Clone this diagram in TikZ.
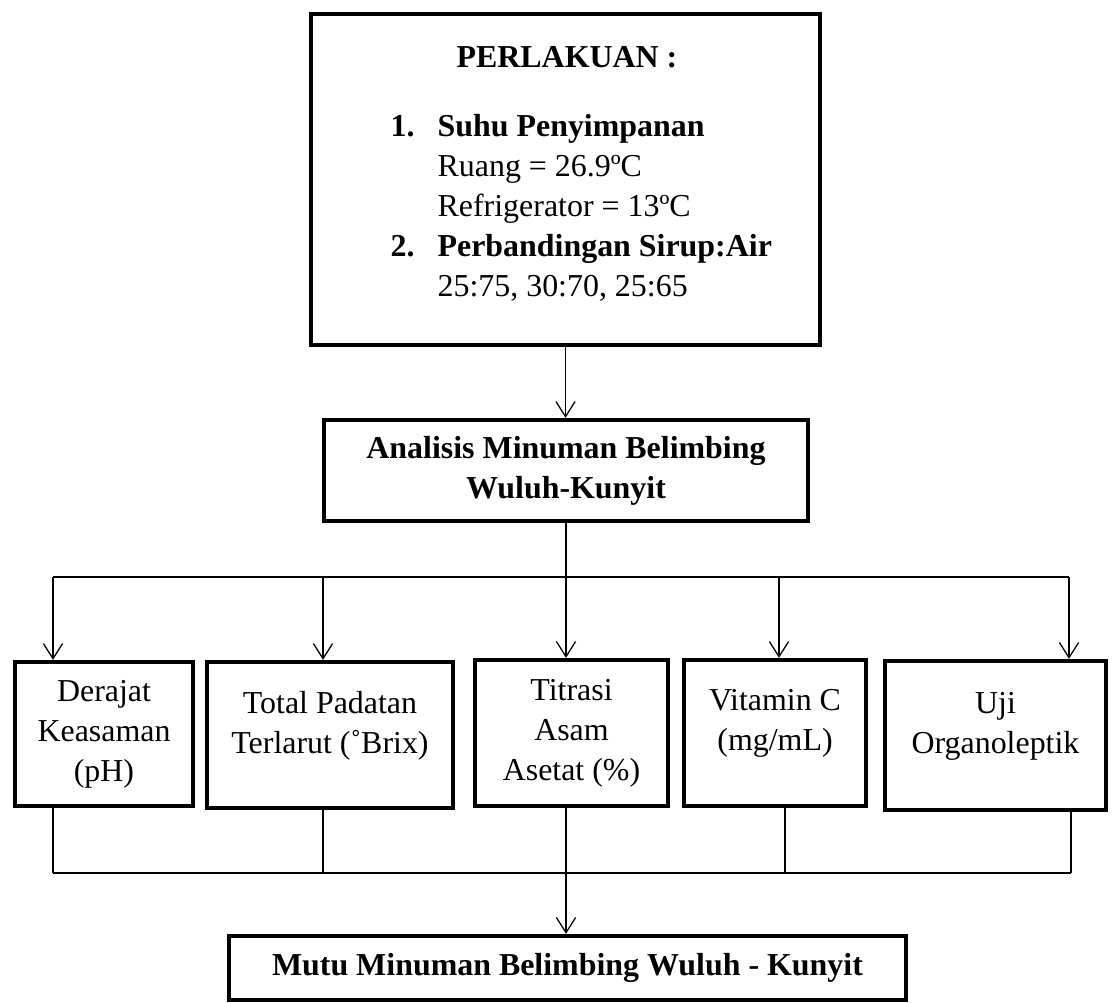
\documentclass[tikz,border=0pt]{standalone}
\usepackage{fontspec}
\setmainfont{Liberation Serif}
\usepackage{tikz}
\usetikzlibrary{arrows.meta,shadows}

\begin{document}
\begin{tikzpicture}[x=0.025cm,y=-0.025cm,line width=0.9pt,>={Straight Barb[length=0.38cm,width=0.48cm]},
	boldbox/.style={rectangle,draw,line width=3pt,fill=white,inner sep=0pt,align=center,drop shadow={shadow xshift=1.5pt,shadow yshift=-1.5pt,opacity=0.3},font=\fontsize{22.7}{28.45}\selectfont},
	plaintext/.style={inner sep=0pt,font=\fontsize{22.7}{28.45}\selectfont},
	lifted/.style={text depth=0.65cm}]
	
	\useasboundingbox (0,0) rectangle (1114,1002);
	
	\node [boldbox,minimum width=12.725cm,minimum height=8.275cm] (perlakuan) at (565.5,179.5) {};
	\node [plaintext] (judul) at (567,57) {\textbf{PERLAKUAN :}};
	\node [plaintext,anchor=base west] (daftar) at (390,136) {%
		\begin{tabular}[t]{@{}p{1.175cm}@{}l@{}}
			\textbf{1.} & \textbf{Suhu Penyimpanan}\\
			& Ruang = 26.9ºC\\
			& Refrigerator = 13ºC\\
			\textbf{2.} & \textbf{Perbandingan Sirup:Air}\\
			& 25:75, 30:70, 25:65
		\end{tabular}};
	
	\node [boldbox,minimum width=12.1cm,minimum height=2.525cm] (analisis) at (566,470.5) {\textbf{Analisis Minuman Belimbing}\\\textbf{Wuluh-Kunyit}};
	
	\node [boldbox,minimum width=4.45cm,minimum height=3.6cm] (derajat) at (104,734) {Derajat\\Keasaman\\(pH)};
	\node [boldbox,lifted,minimum width=6.15cm,minimum height=3.65cm] (padatan) at (330,735) {Total Padatan\\Terlarut (˚Brix)};
	\node [boldbox,minimum width=4.825cm,minimum height=3.65cm] (titrasi) at (571.5,733) {Titrasi\\Asam\\Asetat (\%)};
	\node [boldbox,lifted,minimum width=4.55cm,minimum height=3.65cm] (vitamin) at (775,733) {Vitamin C\\(mg/mL)};
	\node [boldbox,lifted,minimum width=5.525cm,minimum height=3.725cm] (uji) at (995.5,735.5) {Uji\\Organoleptik};
	
	\node [boldbox,minimum width=16.925cm,minimum height=1.6cm] (mutu) at (567.5,968) {\textbf{Mutu Minuman Belimbing Wuluh - Kunyit}};
	
	\coordinate (cab1) at (53,577);
	\coordinate (cab2) at (323,577);
	\coordinate (cab4) at (779,577);
	\coordinate (cab5) at (1069,577);
	\coordinate (gab1) at (53,873);
	\coordinate (gab2) at (323,873);
	\coordinate (gab4) at (785,873);
	\coordinate (gab5) at (1071,873);
	
	\draw [->] (perlakuan.south) -- (perlakuan.south |- analisis.north);
	\draw [->] (analisis.south) -- (analisis.south |- titrasi.north);
	\draw (cab1) -- (cab5);
	\draw [->] (cab1) -- (cab1 |- derajat.north);
	\draw [->] (cab2) -- (cab2 |- padatan.north);
	\draw [->] (cab4) -- (cab4 |- vitamin.north);
	\draw [->] (cab5) -- (cab5 |- uji.north);
	
	\draw (gab1 |- derajat.south) -- (gab1);
	\draw (gab2 |- padatan.south) -- (gab2);
	\draw (gab4 |- vitamin.south) -- (gab4);
	\draw (gab5 |- uji.south) -- (gab5);
	\draw (gab1) -- (gab5);
	\draw [->] (analisis.south |- titrasi.south) -- (analisis.south |- mutu.north);
	
\end{tikzpicture}
\end{document}
